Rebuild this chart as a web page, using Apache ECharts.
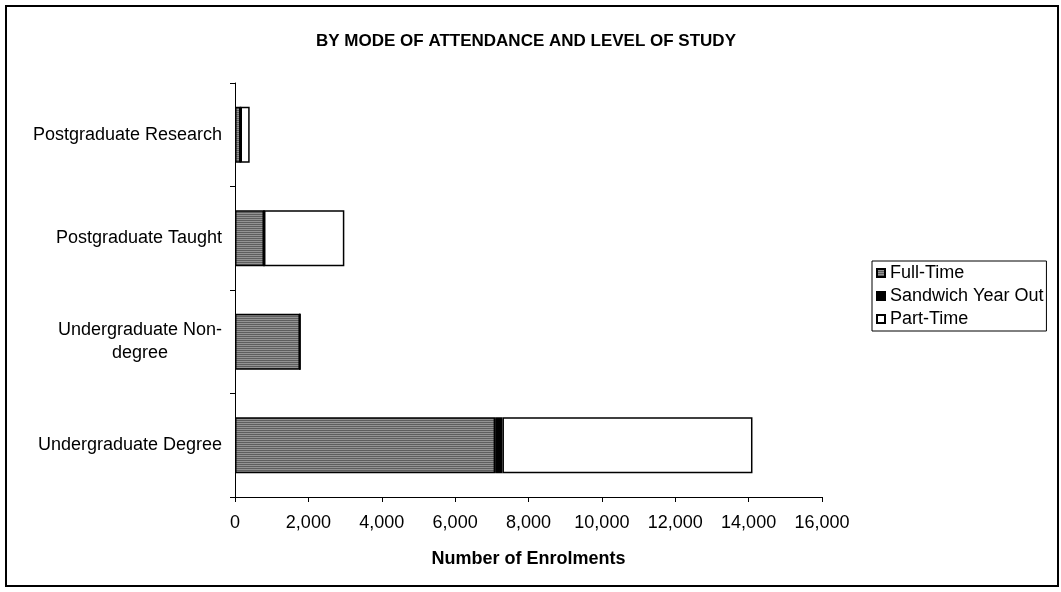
<!DOCTYPE html>
<html>
<head>
<meta charset="utf-8">
<script src="https://cdn.jsdelivr.net/npm/echarts@6/dist/echarts.min.js"></script>
<style>
html,body{margin:0;padding:0;background:#fff;}
#c{width:1061px;height:592px;}
</style>
</head>
<body>
<div id="c"></div>
<script>
const categories = ['Undergraduate Degree', 'Undergraduate Non-degree', 'Postgraduate Taught', 'Postgraduate Research'];
const fullTime = [7090, 1770, 790, 150];
const sandwichYearOut = [200, 0, 0, 0];
const partTime = [6815, 0, 2190, 250];
const xTicks = [0, 2000, 4000, 6000, 8000, 10000, 12000, 14000, 16000];

const FONT = '"Liberation Sans", Arial, sans-serif';

// striped gray pattern for Full-Time
const pc = document.createElement('canvas');
pc.width = 4; pc.height = 2;
const pctx = pc.getContext('2d');
pctx.fillStyle = '#5e5e5e'; pctx.fillRect(0, 0, 4, 1);
pctx.fillStyle = '#939393'; pctx.fillRect(0, 1, 4, 1);
const stripe = { image: pc, repeat: 'repeat' };

const chart = echarts.init(document.getElementById('c'), null, { renderer: 'canvas' });

const barCommon = {
  type: 'bar',
  stack: 'total',
  barWidth: 56,
  animation: false
};

chart.setOption({
  animation: false,
  backgroundColor: '#fff',
  textStyle: { fontFamily: FONT, color: '#000' },
  title: {
    text: 'BY MODE OF ATTENDANCE AND LEVEL OF STUDY',
    left: 526,
    textAlign: 'center',
    top: 33,
    padding: 0,
    textStyle: { fontFamily: FONT, fontSize: 17, fontWeight: 'bold', color: '#000' }
  },
  graphic: [{
    type: 'rect',
    shape: { x: 6, y: 6, width: 1052, height: 580 },
    style: { fill: 'none', stroke: '#000', lineWidth: 2 },
    silent: true,
    z: 100
  }],
  legend: {
    orient: 'vertical',
    left: 872,
    top: 261,
    padding: [3, 3, 3, 4],
    itemWidth: 8,
    itemHeight: 8,
    itemGap: 5,
    itemTextGap: 10,
    borderColor: '#000',
    borderWidth: 1,
    borderRadius: 0,
    icon: 'rect',
    textStyle: { fontFamily: FONT, fontSize: 18, color: '#000', lineHeight: 18 },
    data: ['Full-Time', 'Sandwich Year Out', 'Part-Time']
  },
  grid: { left: 235, right: 239, top: 83, bottom: 95, containLabel: false },
  xAxis: {
    type: 'value',
    min: xTicks[0],
    max: xTicks[xTicks.length - 1],
    interval: xTicks[1] - xTicks[0],
    name: 'Number of Enrolments',
    nameLocation: 'middle',
    nameGap: 53,
    nameTextStyle: { fontFamily: FONT, fontSize: 18, fontWeight: 'bold', color: '#000' },
    axisLine: { show: true, lineStyle: { color: '#000', width: 1 } },
    axisTick: { show: true, length: 5, lineStyle: { color: '#000' } },
    splitLine: { show: false },
    axisLabel: {
      fontFamily: FONT, fontSize: 18, color: '#000', margin: 17,
      formatter: v => v.toLocaleString('en-US')
    }
  },
  yAxis: {
    type: 'category',
    data: categories,
    axisLine: { show: true, lineStyle: { color: '#000', width: 1 } },
    axisTick: { show: true, length: 5, lineStyle: { color: '#000' } },
    axisLabel: {
      fontFamily: FONT, fontSize: 18, color: '#000', margin: 13,
      formatter: function (v) {
        if (v === 'Undergraduate Non-degree') {
          return '{c|Undergraduate Non-}\n{c|degree}';
        }
        return v;
      },
      rich: {
        c: { align: 'center', fontFamily: FONT, fontSize: 18, color: '#000', lineHeight: 23 }
      }
    }
  },
  series: [
    Object.assign({}, barCommon, {
      name: 'Full-Time',
      data: fullTime,
      itemStyle: { color: stripe, borderColor: '#000', borderWidth: 1.5 }
    }),
    Object.assign({}, barCommon, {
      name: 'Sandwich Year Out',
      data: sandwichYearOut,
      itemStyle: { color: '#000', borderColor: '#000', borderWidth: 1.5 }
    }),
    Object.assign({}, barCommon, {
      name: 'Part-Time',
      data: partTime,
      itemStyle: { color: '#fff', borderColor: '#000', borderWidth: 1.5 }
    })
  ]
});
</script>
</body>
</html>
